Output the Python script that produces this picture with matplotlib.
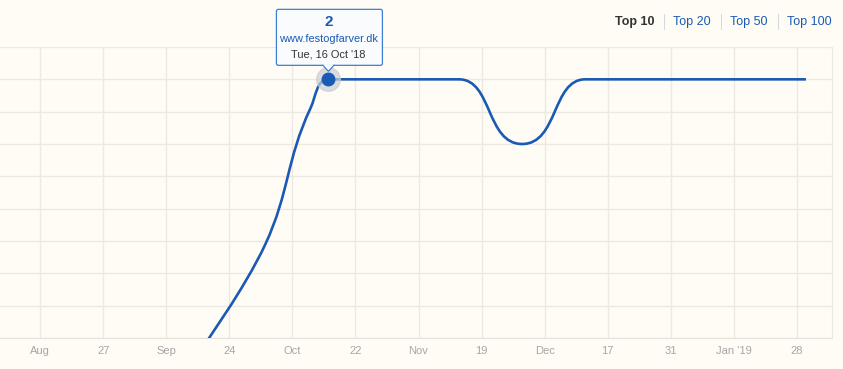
import numpy as np
import pandas as pd
import matplotlib
matplotlib.use("Agg")
import matplotlib.pyplot as plt
import matplotlib.dates as mdates
from matplotlib.path import Path
from matplotlib.patches import PathPatch, FancyBboxPatch, Polygon
from matplotlib.lines import Line2D

# ranking data (position in search results)
dates = ["2018-09-18", "2018-10-02", "2018-10-12", "2018-10-16",
         "2018-10-30", "2018-11-14", "2018-11-28", "2018-12-12", "2018-12-26",
         "2019-01-09", "2019-01-30"]
ranks = [10.3, 7.1, 2.9, 2, 2, 2, 4, 2, 2, 2, 2]

tick_dates = ["2018-08-13", "2018-08-27", "2018-09-10", "2018-09-24", "2018-10-08",
              "2018-10-22", "2018-11-05", "2018-11-19", "2018-12-03", "2018-12-17",
              "2018-12-31", "2019-01-14", "2019-01-28"]
tick_labels = ["Aug", "27", "Sep", "24", "Oct", "22", "Nov", "19", "Dec", "17",
               "31", "Jan '19", "28"]

hover_date = "2018-10-16"
hover_rank = 2
hover_site = "www.festogfarver.dk"
hover_text = "Tue, 16 Oct '18"
buttons = ["Top 10", "Top 20", "Top 50", "Top 100"]

BG = "#fffcf5"
GRID = "#ece9e2"
BLUE = "#1a5ab4"
plt.rcParams["font.family"] = ["Liberation Sans", "DejaVu Sans"]

fig = plt.figure(figsize=(8.43, 3.69), dpi=100, facecolor=BG)
ax = fig.add_axes([0.0, 1 - 338 / 369, 831.5 / 843, (338 - 47) / 369])
ax.set_facecolor(BG)

x = mdates.date2num(pd.to_datetime(dates))
y = np.array(ranks, dtype=float)
xmin = mdates.date2num(pd.Timestamp("2018-08-13")) - 8.9
xmax = mdates.date2num(pd.Timestamp("2019-01-28")) + 7.67
ax.set_xlim(xmin, xmax)
ax.set_ylim(10, 1)

# highcharts-like spline, computed in a roughly pixel-scaled space
sx, sy = 4.5, 32.33
px, py = x * sx, y * sy
n = len(px)
lcx, lcy, rcx, rcy = px.copy(), py.copy(), px.copy(), py.copy()
sm = 1.5
den = sm + 1
for i in range(1, n - 1):
    lx = (sm * px[i] + px[i - 1]) / den
    ly = (sm * py[i] + py[i - 1]) / den
    rx = (sm * px[i] + px[i + 1]) / den
    ry = (sm * py[i] + py[i + 1]) / den
    dl = np.hypot(lx - px[i], ly - py[i])
    dr = np.hypot(rx - px[i], ry - py[i])
    la = np.arctan2(ly - py[i], lx - px[i])
    ra = np.arctan2(ry - py[i], rx - px[i])
    ja = np.pi / 2 + (la + ra) / 2
    if abs(la - ja) > np.pi / 2:
        ja -= np.pi
    lx = px[i] + np.cos(ja) * dl
    ly = py[i] + np.sin(ja) * dl
    rx = px[i] + np.cos(np.pi + ja) * dr
    ry = py[i] + np.sin(np.pi + ja) * dr
    if ly > py[i] and ly > py[i - 1]:
        ly = max(py[i - 1], py[i]); ry = 2 * py[i] - ly
    elif ly < py[i] and ly < py[i - 1]:
        ly = min(py[i - 1], py[i]); ry = 2 * py[i] - ly
    if ry > py[i] and ry > py[i + 1]:
        ry = max(py[i + 1], py[i]); ly = 2 * py[i] - ry
    elif ry < py[i] and ry < py[i + 1]:
        ry = min(py[i + 1], py[i]); ly = 2 * py[i] - ry
    lcx[i], lcy[i], rcx[i], rcy[i] = lx, ly, rx, ry

verts = [(x[0], y[0])]
codes = [Path.MOVETO]
for i in range(1, n):
    verts += [(rcx[i - 1] / sx, rcy[i - 1] / sy), (lcx[i] / sx, lcy[i] / sy), (x[i], y[i])]
    codes += [Path.CURVE4] * 3
ax.add_patch(PathPatch(Path(verts, codes), fill=False, edgecolor=BLUE, lw=1.9,
                       zorder=3, capstyle="butt"))

# grid
tx = mdates.date2num(pd.to_datetime(tick_dates))
ax.set_xticks(tx)
ax.set_xticklabels(tick_labels)
ax.set_yticks(range(1, 11))
ax.grid(True, color=GRID, lw=1.0)
ax.tick_params(axis="x", length=0, pad=6, labelsize=8, labelcolor="#a6a6a6")
ax.tick_params(axis="y", length=0, labelleft=False)
for side in ["left", "top"]:
    ax.spines[side].set_visible(False)
ax.spines["right"].set_color(GRID)
ax.spines["bottom"].set_color("#e6e3dc")

# hover marker + tooltip
hx = mdates.date2num(pd.Timestamp(hover_date))
ax.plot([hx], [hover_rank], "o", ms=17, color="#c9cdd3", alpha=0.7, zorder=4, clip_on=False)
ax.plot([hx], [hover_rank], "o", ms=9, color=BLUE, zorder=5, clip_on=False)

fig.canvas.draw()
dx, dy = ax.transData.transform((hx, hover_rank))
H = 369
bw, bh = 106, 56
bl, bb = dx - 52, dy + 14
box = FancyBboxPatch((bl, bb), bw, bh, boxstyle="round,pad=0,rounding_size=2",
                     transform=None, facecolor="#f9fbfd", edgecolor="#3b7fd4", lw=0.9, zorder=10)
fig.add_artist(box)
tri = Polygon([(dx - 6, bb + 0.5), (dx, bb - 6), (dx + 6, bb + 0.5)], closed=False,
              transform=None, facecolor="#f9fbfd", edgecolor="#3b7fd4", lw=0.9, zorder=11)
fig.add_artist(tri)
fig.add_artist(Polygon([(dx - 5, bb + 1.2), (dx + 5, bb + 1.2), (dx, bb - 4.5)], closed=True,
                       transform=None, facecolor="#f9fbfd", edgecolor="none", zorder=12))
fig.text(dx / 843, (bb + bh - 13) / H, str(hover_rank), ha="center", va="center",
         fontsize=11, fontweight="bold", color=BLUE, zorder=13)
fig.text(dx / 843, (bb + bh - 29.5) / H, hover_site, ha="center", va="center",
         fontsize=7.9, color=BLUE, zorder=13)
fig.text(dx / 843, (bb + bh - 45) / H, hover_text, ha="center", va="center",
         fontsize=7.9, color="#333333", zorder=13)

# top-N buttons
bx = [635, 692, 749, 809]
for i, (lab, cx) in enumerate(zip(buttons, bx)):
    fig.text(cx / 843, 1 - 21.5 / H, lab, ha="center", va="center", fontsize=9,
             fontweight="bold" if i == 0 else "normal",
             color="#333333" if i == 0 else BLUE)
for sxp in [663.5, 720.5, 777.5]:
    fig.add_artist(Line2D([sxp / 843, sxp / 843], [1 - 14 / H, 1 - 29 / H],
                          transform=fig.transFigure, color="#d3d6db", lw=0.7))

fig.savefig("out.png", dpi=100, facecolor=BG)
